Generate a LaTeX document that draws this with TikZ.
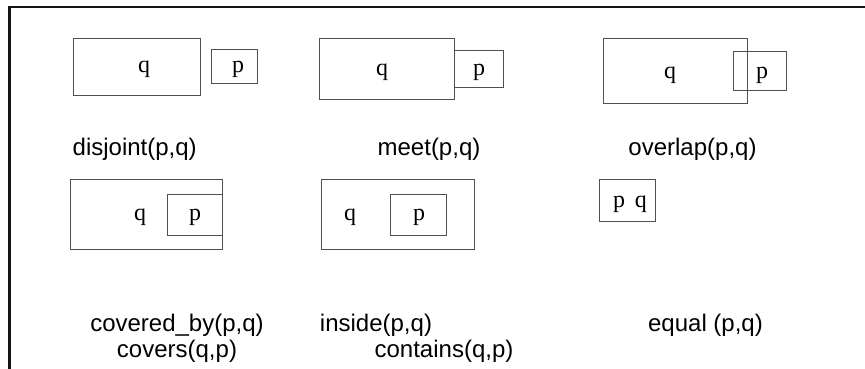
\documentclass[tikz,border=0pt]{standalone}
\usepackage{fontspec}
\setmainfont{Liberation Sans}
\newfontfamily\letterfont{Liberation Serif}
\usetikzlibrary{fit}
\definecolor{boxgray}{HTML}{505050}
\definecolor{framegray}{HTML}{151515}
\begin{document}
\begin{tikzpicture}[x=1pt,y=-1pt,
  region/.style={draw=boxgray, line width=1pt, inner sep=0pt},
  letter/.style={anchor=base, inner sep=0pt, font=\letterfont\fontsize{24}{26}\selectfont},
  caption/.style={anchor=base, inner sep=0pt, font=\fontsize{24}{28}\selectfont},
  frameline/.style={draw=framegray, line width=2.2pt}]
\useasboundingbox (0,0) rectangle (865,369);

% outer frame (top and left edges only)
\draw[frameline] (9.5,369) -- (9.5,7) -- (865,7);

% disjoint
\node[region, fit={(73.3,38.3) (200,95.7)}] (dq) {};
\node[region, fit={(211.3,49.3) (257.3,84)}] (dp) {};
\node[letter] (dql) at (144,73) {q};
\node[letter] (dpl) at (238,73) {p};
\node[caption] (dcap) at (134.7,155) {disjoint(p,q)};

% meet
\node[region, fit={(319.3,38.3) (454,99.3)}] (mq) {};
\node[region, fit={(454,50.7) (503.3,87.3)}] (mp) {};
\node[letter] (mql) at (382,75) {q};
\node[letter] (mpl) at (479,75) {p};
\node[caption] (mcap) at (429,155) {meet(p,q)};

% overlap
\node[region, fit={(603.3,38.3) (747.3,103.3)}] (oq) {};
\node[region, fit={(733.3,51.7) (786.7,90.7)}] (op) {};
\node[letter] (oql) at (670,79) {q};
\node[letter] (opl) at (762,79) {p};
\node[caption] (ocap) at (692.5,155) {overlap(p,q)};

% covered by / covers
\node[region, fit={(70.7,179.3) (222.7,249)}] (cq) {};
\node[region, fit={(167.3,194) (222.7,235)}] (cp) {};
\node[letter] (cql) at (140,220) {q};
\node[letter] (cpl) at (195,220) {p};
\node[caption] (ccap) at (177,331) {covered\_by(p,q)};
\node[caption] (ccap2) at (177,357) {covers(q,p)};

% inside / contains
\node[region, fit={(321.7,179.3) (474,249)}] (iq) {};
\node[region, fit={(390.7,194) (446.7,235)}] (ip) {};
\node[letter] (iql) at (350,220) {q};
\node[letter] (ipl) at (419,220) {p};
\node[caption] (icap) at (376,331) {inside(p,q)};
\node[caption] (icap2) at (444,357) {contains(q,p)};

% equal
\node[region, fit={(599.3,179.3) (655,221)}] (eb) {};
\node[letter] (epl) at (630,207) {p\hspace{0.4em}q};
\node[caption] (ecap) at (705.5,331) {equal (p,q)};
\end{tikzpicture}
\end{document}
